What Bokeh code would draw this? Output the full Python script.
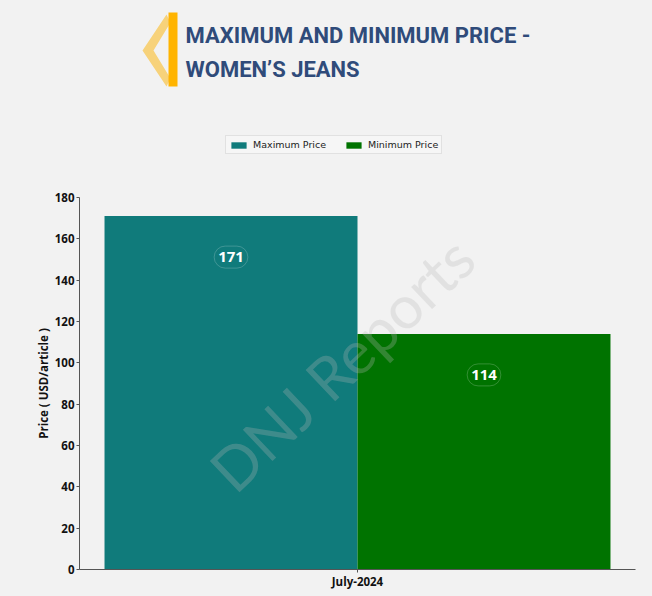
from bokeh.plotting import figure
from bokeh.layouts import column
from bokeh.models import (ColumnDataSource, FactorRange, Range1d, Legend, LegendItem,
                          Label, FixedTicker)
from bokeh.transform import dodge
from bokeh.core.properties import value
from bokeh.embed import file_html
from bokeh.resources import INLINE

# ---- data ----
months = ["July-2024"]
max_price = [171]
min_price = [114]
series_names = ["Maximum Price", "Minimum Price"]
series_colors = ["#107b7b", "#007300"]
y_ticks = [0, 20, 40, 60, 80, 100, 120, 140, 160, 180]
title_lines = ["MAXIMUM AND MINIMUM PRICE -", "WOMEN\u2019S JEANS"]

BG = "#f2f2f2"
W, H = 652, 596
HEAD_H = 180
FL, FR = 79, 635   # frame left/right (pixels); header frame is aligned to the chart frame

# ---------------- header (title, logo, legend) ----------------
head = figure(width=W, height=HEAD_H, x_range=Range1d(FL, FR), y_range=Range1d(HEAD_H, 0),
              output_backend="svg", toolbar_location=None,
              min_border_left=FL, min_border_right=W - FR, min_border_top=0, min_border_bottom=0,
              x_axis_type=None, y_axis_type=None)
head.background_fill_color = BG
head.border_fill_color = BG
head.outline_line_color = None
head.grid.visible = False

# logo: light chevron + yellow bar (pixel-space decoration)
head.patch(x=[166, 142, 166, 170, 153, 170], y=[14, 50, 86, 78, 50, 22],
           fill_color="#f7d27a", line_color=None)
head.patch(x=[168, 177, 177, 168], y=[12, 12, 86, 86], fill_color="#ffb400", line_color=None)

for txt, base in zip(title_lines, [35, 69]):
    head.add_layout(Label(x=185, y=base, text=txt, text_baseline="alphabetic", text_align="left",
                          text_font="Roboto", text_font_style="bold",
                          text_font_size="22px", text_color="#2f4b7a"))

# legend proxies (legend is drawn in the header area)
src_proxy = ColumnDataSource(dict(x=[0], top=[0]))
lr1 = head.vbar(x="x", top="top", bottom=0, width=0, source=src_proxy,
                fill_color=series_colors[0], line_color=None)
lr2 = head.vbar(x="x", top="top", bottom=0, width=0, source=src_proxy,
                fill_color=series_colors[1], line_color=None)
legend = Legend(items=[LegendItem(label=series_names[0], renderers=[lr1]),
                       LegendItem(label=series_names[1], renderers=[lr2])],
                orientation="horizontal", location=(225 - FL, HEAD_H - 154),
                label_text_font="DejaVu Sans", label_text_font_size="9.5px",
                label_text_color="#222222", glyph_width=19, glyph_height=8,
                label_height=10, padding=3, spacing=18, margin=0,
                border_line_color="#cccccc", background_fill_color="#f6f6f6",
                background_fill_alpha=1.0)
head.add_layout(legend, "center")

# ---------------- chart ----------------
src = ColumnDataSource(dict(month=months, maxp=max_price, minp=min_price,
                            maxl=[str(v) for v in max_price],
                            minl=[str(v) for v in min_price]))

p = figure(x_range=FactorRange(*months), y_range=Range1d(0, 180),
           width=W, height=H - HEAD_H, output_backend="svg", toolbar_location=None,
           min_border_left=FL, min_border_right=W - FR, min_border_top=197 - HEAD_H,
           min_border_bottom=27)
p.background_fill_color = BG
p.border_fill_color = BG
p.outline_line_color = None
p.xgrid.visible = False
p.ygrid.visible = False

w = 0.455
r1 = p.vbar(x=dodge("month", -w / 2, range=p.x_range), top="maxp", width=w, source=src,
            fill_color=series_colors[0], line_color=None)
r2 = p.vbar(x=dodge("month", w / 2, range=p.x_range), top="minp", width=w, source=src,
            fill_color=series_colors[1], line_color=None)

for col, lab, off in [("maxp", "maxl", -w / 2), ("minp", "minl", w / 2)]:
    p.text(x=dodge("month", off, range=p.x_range), y=col, text=lab, source=src,
           y_offset=41, text_align="center", text_baseline="middle",
           text_font=value("Open Sans"), text_font_style="bold", text_font_size="15px",
           text_color="white", padding=(4, 6), border_radius=12,
           border_line_color="white", border_line_alpha=0.2, border_line_width=1)

# watermark
p.add_layout(Label(x=262, y=206, x_units="screen", y_units="screen",
                   text="DNJ Reports", angle=0.76, text_align="center", text_baseline="middle",
                   text_font="Lato", text_font_size="60px", text_color="#b8b8b8",
                   text_alpha=0.28))

# axes
for ax in (p.xaxis[0], p.yaxis[0]):
    ax.axis_line_color = "#555555"
    ax.major_tick_line_color = "#555555"
    ax.minor_tick_line_color = None
    ax.major_tick_in = 0
    ax.major_tick_out = 3
    ax.major_label_text_font = "Open Sans"
    ax.major_label_text_font_style = "bold"
    ax.major_label_text_font_size = "11.5px"
    ax.major_label_text_color = "#111111"
p.yaxis.ticker = FixedTicker(ticks=y_ticks)
p.yaxis.major_label_standoff = 2
p.xaxis.major_label_standoff = 1
p.yaxis.axis_label = "Price ( USD/article )"
p.yaxis.axis_label_text_font = "Open Sans"
p.yaxis.axis_label_text_font_style = "bold"
p.yaxis.axis_label_text_font_size = "11.5px"
p.yaxis.axis_label_text_color = "#111111"
p.yaxis.axis_label_standoff = 1

layout = column(head, p, spacing=0)
html = file_html(layout, INLINE)
html = html.replace("<head>", "<head><style>body{background:%s;}</style>" % BG, 1)
open("out.html", "w").write(html)
